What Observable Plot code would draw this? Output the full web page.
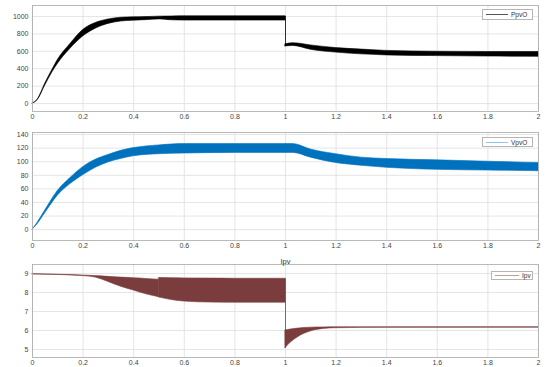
<!DOCTYPE html>
<html>
<head>
<meta charset="utf-8">
<script src="https://cdn.jsdelivr.net/npm/d3@7"></script>
<script src="https://cdn.jsdelivr.net/npm/@observablehq/plot@0.6"></script>
<style>
  html, body { margin: 0; padding: 0; background: #fff; }
  #wrap { position: relative; width: 545px; height: 367px; overflow: hidden; font-family: "Liberation Sans", Arial, sans-serif; }
  .panel { position: absolute; left: 0; width: 545px; }
  .legend { position: absolute; border: 1px solid #b5b5b5; background: #fff; font-size: 6.5px; color: #333; box-sizing: border-box; display: flex; align-items: center; }
  .legend .ln { display: inline-block; height: 0; margin-left: 3px; margin-right: 3px; }
</style>
</head>
<body>
<div id="wrap"></div>
<script>
// ---- data ----
const xTicks = [0, 0.2, 0.4, 0.6, 0.8, 1, 1.2, 1.4, 1.6, 1.8, 2];

// Panel 1: PpvO (band: lower / upper); segment 0 = t<=1, segment 1 = t>=1
const ppvT   = [0, 0.02, 0.05, 0.08, 0.1, 0.15, 0.2, 0.25, 0.3, 0.35, 0.4, 0.45, 0.5, 0.55, 0.6, 0.8, 1.0, 1.0, 1.03, 1.1, 1.2, 1.3, 1.4, 1.6, 1.8, 2.0];
const ppvSeg = [0, 0, 0, 0, 0, 0, 0, 0, 0, 0, 0, 0, 0, 0, 0, 0, 0, 1, 1, 1, 1, 1, 1, 1, 1, 1];
const ppvLo  = [0, 38, 205, 365, 455, 630, 770, 860, 915, 942, 952, 958, 966, 956, 953, 953, 953, 655, 662, 618, 585, 565, 553, 545, 540, 537];
const ppvHi  = [0, 44, 228, 395, 500, 685, 845, 925, 965, 985, 990, 993, 998, 1000, 1002, 1002, 1002, 680, 693, 668, 637, 620, 605, 595, 592, 592];
const ppvYTicks = [0, 200, 400, 600, 800, 1000];

// Panel 2: VpvO
const vpvT   = [0, 0.02, 0.05, 0.1, 0.15, 0.2, 0.25, 0.3, 0.35, 0.4, 0.5, 0.6, 0.8, 1.0, 1.03, 1.1, 1.2, 1.3, 1.4, 1.6, 1.8, 2.0];
const vpvSeg = vpvT.map(() => 0);
const vpvLo  = [0, 8, 24, 50, 67, 80, 91, 99, 104, 108, 111, 112, 113, 113, 113, 106, 98, 94, 91, 88, 87, 86];
const vpvHi  = [0, 10, 28, 57, 76, 92, 103, 110, 116, 120, 124, 126, 126, 126, 126, 118, 111, 106, 104, 102, 100, 98];
const vpvYTicks = [0, 20, 40, 60, 80, 100, 120, 140];

// Panel 3: Ipv
const ipvT   = [0, 0.1, 0.2, 0.25, 0.3, 0.35, 0.4, 0.45, 0.5, 0.501, 0.55, 0.6, 0.7, 0.8, 1.0, 1.0, 1.02, 1.05, 1.1, 1.15, 1.2, 1.4, 2.0];
const ipvSeg = [0, 0, 0, 0, 0, 0, 0, 0, 0, 2, 2, 2, 2, 2, 2, 1, 1, 1, 1, 1, 1, 1, 1];
const ipvLo  = [8.95, 8.92, 8.86, 8.78, 8.55, 8.3, 8.1, 7.9, 7.75, 7.73, 7.6, 7.52, 7.47, 7.46, 7.46, 5.07, 5.35, 5.65, 5.95, 6.08, 6.12, 6.14, 6.15];
const ipvHi  = [8.96, 8.93, 8.89, 8.86, 8.82, 8.78, 8.75, 8.71, 8.67, 8.76, 8.75, 8.74, 8.73, 8.72, 8.72, 6.0, 6.05, 6.1, 6.15, 6.16, 6.17, 6.17, 6.17];
const ipvYTicks = [5, 6, 7, 8, 9];

// ---- build ----
const wrap = document.getElementById("wrap");
const rows = (T, S, L, H) => T.map((t, i) => ({t, seg: S[i], lo: L[i], hi: H[i]}));
const fmtX = d => d === 0 ? "0" : String(+d.toFixed(1));

// vertical connectors where the trace jumps (segment change)
function jumps(data) {
  const out = [];
  for (let i = 1; i < data.length; i++) {
    if (data[i].seg !== data[i - 1].seg) {
      const a = data[i - 1], b = data[i];
      out.push({t: b.t, y1: Math.min(a.lo, b.lo), y2: Math.max(a.hi, b.hi)});
    }
  }
  return out;
}

function panel({top, height, mt, mb, ydom, yticks, data, color, title}) {
  const marks = [
    Plot.gridX(xTicks, {stroke: "#dedede", strokeOpacity: 1, strokeWidth: 0.8}),
    Plot.gridY(yticks, {stroke: "#dedede", strokeOpacity: 1, strokeWidth: 0.8}),
    Plot.ruleX(jumps(data), {x: "t", y1: "y1", y2: "y2", stroke: color, strokeWidth: 0.8}),
    Plot.areaY(data, {x: "t", y1: "lo", y2: "hi", z: "seg", fill: color, stroke: color, strokeWidth: 0.6, curve: "monotone-x"}),
    Plot.frame({stroke: "#a8a8a8", strokeWidth: 0.8}),
    Plot.axisX(xTicks, {tickSize: 0, tickPadding: 3, tickFormat: fmtX, fill: "#444", label: null}),
    Plot.axisY(yticks, {tickSize: 0, tickPadding: 4, tickFormat: d => String(d), fill: "#444", label: null}),
  ];
  if (title) marks.push(Plot.text([title], {x: 1, frameAnchor: "top", dy: -6, fontSize: 7.5, fill: "#333", text: d => d}));
  const svg = Plot.plot({
    width: 545, height,
    marginLeft: 32, marginRight: 7, marginTop: mt, marginBottom: mb,
    style: {fontSize: "7px", fontFamily: "Liberation Sans, Arial, sans-serif", background: "transparent", overflow: "visible"},
    x: {domain: [0, 2], label: null},
    y: {domain: ydom, label: null},
    marks
  });
  const div = document.createElement("div");
  div.className = "panel";
  div.style.top = top + "px";
  div.appendChild(svg);
  wrap.appendChild(div);
}

panel({top: 0, height: 124, mt: 5, mb: 13, ydom: [-91, 1126], yticks: ppvYTicks, data: rows(ppvT, ppvSeg, ppvLo, ppvHi), color: "#000"});
panel({top: 124, height: 126, mt: 8, mb: 10, ydom: [-16, 143], yticks: vpvYTicks, data: rows(vpvT, vpvSeg, vpvLo, vpvHi), color: "#0072BD"});
panel({top: 250, height: 117, mt: 14, mb: 10, ydom: [4.58, 9.47], yticks: ipvYTicks, data: rows(ipvT, ipvSeg, ipvLo, ipvHi), color: "#7a3c3c", title: "Ipv"});

function legend(label, left, top, w, h, lineColor, lineW) {
  const d = document.createElement("div");
  d.className = "legend";
  Object.assign(d.style, {left: left + "px", top: top + "px", width: w + "px", height: h + "px"});
  const ln = document.createElement("span");
  ln.className = "ln";
  ln.style.width = lineW + "px";
  ln.style.borderTop = "1px solid " + lineColor;
  d.appendChild(ln);
  const t = document.createElement("span");
  t.textContent = label;
  d.appendChild(t);
  wrap.appendChild(d);
}
legend("PpvO", 482, 9, 51, 11, "#555", 22);
legend("VpvO", 482, 137, 51, 10, "#8cc4ea", 22);
legend("Ipv", 491, 271, 42, 9, "#c79a9a", 24);
</script>
</body>
</html>
